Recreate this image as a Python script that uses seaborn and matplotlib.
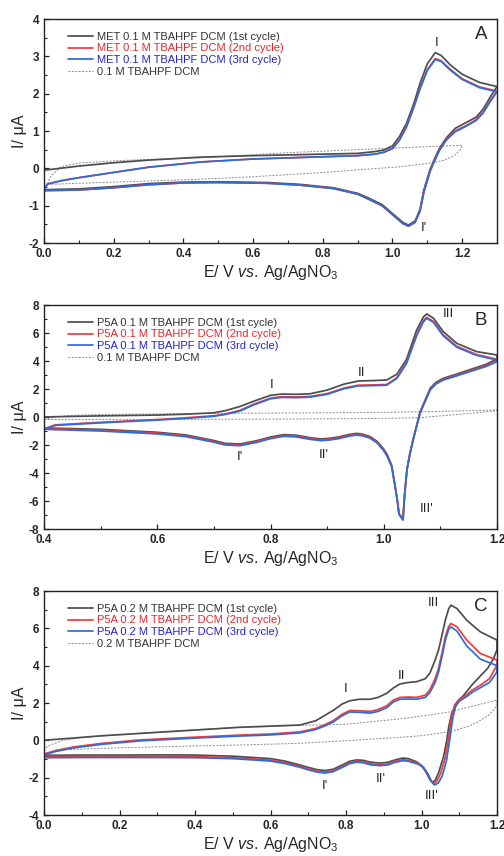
import numpy as np
import matplotlib
matplotlib.use("Agg")
import matplotlib.pyplot as plt
from matplotlib.lines import Line2D
from matplotlib.ticker import MultipleLocator, FormatStrFormatter
import seaborn as sns

# ---------------- Panel A: MET, 0.1 M TBAHPF ----------------
a_fwd_E1 = [0.0, 0.1, 0.2, 0.3, 0.45, 0.6, 0.8, 0.9, 0.95, 0.975, 1.0, 1.02, 1.04, 1.06, 1.08,
            1.1, 1.123, 1.14, 1.166, 1.2, 1.25, 1.3]
a_fwd_I1 = [-0.05, 0.06, 0.15, 0.22, 0.30, 0.34, 0.38, 0.40, 0.45, 0.49, 0.60, 0.85, 1.2, 1.7, 2.3,
            2.8, 3.10, 3.02, 2.77, 2.52, 2.30, 2.19]
a_fwd_E23 = [0.0, 0.01, 0.05, 0.1, 0.2, 0.3, 0.45, 0.6, 0.8, 0.9, 0.95, 0.975, 1.0, 1.02, 1.04,
             1.06, 1.08, 1.1, 1.123, 1.14, 1.166, 1.2, 1.25, 1.3]
a_fwd_I2 = [-0.58, -0.42, -0.33, -0.25, -0.11, 0.03, 0.17, 0.25, 0.31, 0.34, 0.38, 0.43, 0.53, 0.76,
            1.12, 1.62, 2.17, 2.64, 2.94, 2.88, 2.65, 2.40, 2.18, 2.07]
a_fwd_I3 = [-0.58, -0.42, -0.33, -0.25, -0.11, 0.03, 0.17, 0.25, 0.31, 0.34, 0.38, 0.43, 0.53, 0.75,
            1.1, 1.6, 2.15, 2.62, 2.92, 2.86, 2.63, 2.38, 2.16, 2.05]
a_rev_E = [1.3, 1.28, 1.26, 1.24, 1.21, 1.18, 1.155, 1.135, 1.12, 1.108, 1.09, 1.079, 1.065, 1.046,
           1.03, 1.0, 0.97, 0.93, 0.9, 0.83, 0.735, 0.64, 0.5, 0.4, 0.3, 0.2, 0.1, 0.01, 0.0]
a_rev_I1 = [2.19, 1.9, 1.58, 1.37, 1.22, 1.07, 0.82, 0.54, 0.24, -0.03, -0.58, -1.1, -1.41, -1.52,
            -1.45, -1.21, -0.97, -0.79, -0.67, -0.52, -0.43, -0.38, -0.36, -0.37, -0.41, -0.49,
            -0.55, -0.57, -0.57]
a_rev_I2 = [2.07, 1.8, 1.5, 1.3, 1.14, 1.0, 0.78, 0.5, 0.2, -0.07, -0.63, -1.14, -1.44, -1.55,
            -1.48, -1.24, -1.0, -0.82, -0.69, -0.54, -0.45, -0.4, -0.38, -0.39, -0.44, -0.52,
            -0.58, -0.6, -0.6]
a_rev_I3 = [2.05, 1.78, 1.48, 1.28, 1.12, 0.98, 0.76, 0.48, 0.18, -0.08, -0.65, -1.15, -1.45, -1.55,
            -1.48, -1.24, -1.0, -0.82, -0.69, -0.54, -0.45, -0.4, -0.38, -0.39, -0.44, -0.52,
            -0.58, -0.59, -0.59]
a_blank_E = [0.01, 0.02, 0.05, 0.1, 0.2, 0.3, 0.45, 0.59, 0.7, 0.8, 0.9, 1.0, 1.1, 1.15, 1.2,
             1.195, 1.18, 1.15, 1.1, 1.02, 0.9, 0.82, 0.7, 0.59, 0.45, 0.3, 0.2, 0.1, 0.017]
a_blank_I = [-0.42, -0.2, 0.05, 0.14, 0.2, 0.24, 0.28, 0.36, 0.42, 0.46, 0.5, 0.54, 0.58, 0.6, 0.62,
             0.5, 0.36, 0.22, 0.13, 0.04, -0.04, -0.1, -0.17, -0.23, -0.29, -0.34, -0.37, -0.4, -0.43]

# ---------------- Panel B: P5A, 0.1 M TBAHPF ----------------
b_fwd_E = [0.4, 0.42, 0.5, 0.6, 0.65, 0.7, 0.72, 0.746, 0.77, 0.8, 0.82, 0.845, 0.87, 0.9, 0.93,
           0.955, 0.98, 1.005, 1.023, 1.04, 1.058, 1.07, 1.076, 1.088, 1.105, 1.129, 1.164, 1.2]
b_fwd_I1 = [0.0, 0.02, 0.08, 0.14, 0.2, 0.3, 0.45, 0.75, 1.12, 1.55, 1.64, 1.62, 1.66, 1.92, 2.35,
            2.57, 2.6, 2.64, 3.05, 4.1, 6.2, 7.15, 7.36, 7.05, 6.1, 5.26, 4.67, 4.43]
b_fwd_I2 = [-0.85, -0.56, -0.38, -0.18, -0.06, 0.09, 0.22, 0.47, 0.91, 1.35, 1.45, 1.43, 1.47, 1.67,
            2.07, 2.27, 2.29, 2.32, 2.8, 3.87, 5.88, 6.9, 7.12, 6.82, 5.87, 5.05, 4.46, 4.12]
b_fwd_I3 = [-0.88, -0.6, -0.42, -0.22, -0.1, 0.05, 0.18, 0.42, 0.86, 1.3, 1.4, 1.38, 1.42, 1.62,
            2.02, 2.22, 2.24, 2.27, 2.75, 3.8, 5.8, 6.8, 7.05, 6.75, 5.8, 4.98, 4.4, 4.07]
b_rev_E = [1.2, 1.18, 1.152, 1.13, 1.105, 1.092, 1.082, 1.073, 1.064, 1.058, 1.052, 1.046, 1.041,
           1.037, 1.034, 1.027, 1.024, 1.02, 1.014, 1.006, 0.999, 0.988, 0.976, 0.963, 0.952,
           0.94, 0.92, 0.905, 0.89, 0.87, 0.845, 0.823, 0.8, 0.775, 0.746, 0.72, 0.7, 0.65, 0.6,
           0.5, 0.4]
b_rev_I1 = [4.15, 3.75, 3.38, 3.08, 2.76, 2.47, 2.05, 1.2, 0.35, -0.62, -1.56, -2.62, -3.72, -5.45,
            -7.3, -6.9, -5.95, -4.9, -3.45, -2.68, -2.24, -1.73, -1.4, -1.23, -1.17, -1.24, -1.43,
            -1.52, -1.57, -1.48, -1.3, -1.26, -1.43, -1.7, -1.93, -1.88, -1.68, -1.28, -1.09,
            -0.88, -0.78]
b_rev_I2 = [4.05, 3.67, 3.3, 3.0, 2.69, 2.4, 1.98, 1.14, 0.3, -0.66, -1.6, -2.66, -3.76, -5.48,
            -7.33, -6.93, -5.98, -4.94, -3.5, -2.74, -2.3, -1.79, -1.46, -1.29, -1.23, -1.3, -1.49,
            -1.58, -1.63, -1.54, -1.36, -1.32, -1.49, -1.76, -1.99, -1.94, -1.74, -1.34, -1.15,
            -0.94, -0.83]
b_rev_I3 = [3.95, 3.6, 3.24, 2.95, 2.64, 2.35, 1.93, 1.1, 0.26, -0.7, -1.64, -2.7, -3.79, -5.5,
            -7.36, -6.95, -6.0, -4.98, -3.55, -2.8, -2.36, -1.85, -1.52, -1.35, -1.29, -1.36, -1.55,
            -1.64, -1.69, -1.6, -1.42, -1.38, -1.55, -1.82, -2.05, -2.0, -1.8, -1.4, -1.21, -1.0,
            -0.88]
b_blank_E = [0.4, 0.42, 0.45, 0.5, 0.6, 0.7, 0.8, 0.9, 1.0, 1.1, 1.2,
             1.2, 1.15, 1.1, 1.064, 1.0, 0.9, 0.8, 0.7, 0.6, 0.5, 0.4]
b_blank_I = [-0.2, 0.0, 0.12, 0.18, 0.22, 0.26, 0.28, 0.3, 0.33, 0.4, 0.5,
             0.45, 0.25, 0.08, -0.05, -0.1, -0.13, -0.15, -0.16, -0.17, -0.17, -0.18]

# ---------------- Panel C: P5A, 0.2 M TBAHPF ----------------
c_fwd_E = [0.0, 0.005, 0.03, 0.077, 0.15, 0.254, 0.4, 0.519, 0.6, 0.678, 0.72, 0.745, 0.766, 0.79,
           0.81, 0.835, 0.864, 0.885, 0.908, 0.925, 0.943, 0.965, 0.987, 1.01, 1.022, 1.036, 1.045,
           1.055, 1.063, 1.072, 1.078, 1.094, 1.12, 1.156, 1.2]
c_fwd_I1 = [0.0, 0.01, 0.05, 0.12, 0.24, 0.37, 0.55, 0.7, 0.76, 0.82, 1.05, 1.35, 1.6, 1.95, 2.12,
            2.2, 2.2, 2.3, 2.52, 2.8, 3.02, 3.1, 3.14, 3.3, 3.59, 4.3, 4.83, 5.7, 6.43, 7.05, 7.24,
            7.06, 6.43, 5.81, 5.37]
c_fwd_I2 = [-0.8, -0.7, -0.55, -0.36, -0.17, 0.02, 0.17, 0.28, 0.34, 0.45, 0.64, 0.85, 1.05, 1.4,
            1.6, 1.58, 1.55, 1.65, 1.85, 2.15, 2.3, 2.32, 2.3, 2.42, 2.7, 3.3, 3.85, 4.75, 5.54, 6.1,
            6.26, 6.08, 5.37, 4.65, 4.3]
c_fwd_I3 = [-0.85, -0.76, -0.6, -0.41, -0.22, -0.03, 0.12, 0.23, 0.29, 0.4, 0.58, 0.78, 0.98, 1.32,
            1.52, 1.5, 1.46, 1.55, 1.75, 2.05, 2.2, 2.22, 2.2, 2.3, 2.55, 3.1, 3.65, 4.55, 5.35,
            5.95, 6.08, 5.85, 5.05, 4.35, 4.0]
c_rev_E1 = [1.2, 1.19, 1.175, 1.156, 1.135, 1.111, 1.094, 1.08, 1.072, 1.067, 1.058, 1.045, 1.036,
            1.029, 1.022, 1.012, 1.0, 0.987, 0.965, 0.95, 0.93, 0.91, 0.89, 0.865, 0.845, 0.828,
            0.81, 0.79, 0.766, 0.745, 0.725, 0.7, 0.679, 0.64, 0.6, 0.5, 0.4, 0.3, 0.2, 0.1, 0.03,
            0.005]
c_rev_I1 = [4.85, 4.35, 3.85, 3.45, 3.0, 2.4, 2.05, 1.45, 0.7, 0.0, -0.9, -1.75, -2.15, -2.26, -2.1,
            -1.7, -1.35, -1.15, -0.98, -0.95, -1.05, -1.18, -1.22, -1.17, -1.07, -1.05, -1.12,
            -1.32, -1.55, -1.62, -1.58, -1.45, -1.33, -1.12, -0.98, -0.85, -0.79, -0.78, -0.79,
            -0.79, -0.8, -0.8]
c_rev_E2 = [1.2, 1.18, 1.156, 1.135, 1.12, 1.1, 1.088, 1.08, 1.075, 1.07, 1.062, 1.05, 1.04, 1.032,
            1.025, 1.015, 1.003, 0.99, 0.965, 0.95, 0.93, 0.91, 0.89, 0.865, 0.845, 0.828, 0.81,
            0.79, 0.766, 0.745, 0.725, 0.7, 0.679, 0.64, 0.6, 0.5, 0.4, 0.3, 0.2, 0.1, 0.03, 0.005]
c_rev_I2 = [4.03, 3.3, 2.95, 2.7, 2.45, 2.2, 1.9, 1.3, 0.6, -0.1, -1.0, -1.8, -2.2, -2.32, -2.15,
            -1.75, -1.4, -1.22, -1.07, -1.04, -1.13, -1.27, -1.31, -1.26, -1.15, -1.12, -1.2, -1.4,
            -1.63, -1.7, -1.66, -1.53, -1.4, -1.2, -1.06, -0.93, -0.87, -0.86, -0.86, -0.86, -0.87,
            -0.87]
c_rev_E3 = [1.2, 1.18, 1.156, 1.135, 1.12, 1.1, 1.09, 1.083, 1.078, 1.073, 1.066, 1.055, 1.044,
            1.034, 1.027, 1.017, 1.005, 0.99, 0.965, 0.95, 0.93, 0.91, 0.89, 0.865, 0.845, 0.828,
            0.81, 0.79, 0.766, 0.745, 0.725, 0.7, 0.679, 0.64, 0.6, 0.5, 0.4, 0.3, 0.2, 0.1, 0.03,
            0.005]
c_rev_I3 = [3.67, 3.1, 2.82, 2.58, 2.35, 2.1, 1.8, 1.2, 0.5, -0.2, -1.1, -1.9, -2.3, -2.39, -2.22,
            -1.8, -1.45, -1.27, -1.12, -1.09, -1.18, -1.32, -1.36, -1.31, -1.2, -1.17, -1.25, -1.45,
            -1.68, -1.75, -1.71, -1.58, -1.45, -1.25, -1.11, -0.98, -0.93, -0.92, -0.92, -0.92,
            -0.93, -0.93]
c_blank_E = [0.0, 0.01, 0.05, 0.1, 0.2, 0.3, 0.4, 0.5, 0.6, 0.678, 0.8, 0.943, 1.03, 1.075, 1.12, 1.2,
             1.2, 1.19, 1.175, 1.146, 1.12, 1.075, 1.0, 0.943, 0.8, 0.678, 0.52, 0.4, 0.2, 0.03]
c_blank_I = [-0.55, -0.3, 0.0, 0.15, 0.3, 0.45, 0.57, 0.68, 0.75, 0.8, 0.86, 1.15, 1.38, 1.53, 1.75,
             2.16, 1.85, 1.6, 1.3, 0.95, 0.72, 0.46, 0.25, 0.16, -0.02, -0.16, -0.25, -0.3, -0.4,
             -0.52]

# Legend texts
legend_A = ["MET 0.1 M TBAHPF DCM (1st cycle)", "MET 0.1 M TBAHPF DCM (2nd cycle)",
            "MET 0.1 M TBAHPF DCM (3rd cycle)", "0.1 M TBAHPF DCM"]
legend_B = ["P5A 0.1 M TBAHPF DCM (1st cycle)", "P5A 0.1 M TBAHPF DCM (2nd cycle)",
            "P5A 0.1 M TBAHPF DCM (3rd cycle)", "0.1 M TBAHPF DCM"]
legend_C = ["P5A 0.2 M TBAHPF DCM (1st cycle)", "P5A 0.2 M TBAHPF DCM (2nd cycle)",
            "P5A 0.2 M TBAHPF DCM (3rd cycle)", "0.2 M TBAHPF DCM"]

# Peak annotations (label, E, I)
peaks_A = [("I", 1.126, 3.35), ("I'", 1.091, -1.6)]
peaks_B = [("I", 0.802, 2.29), ("II", 0.961, 3.12), ("III", 1.115, 7.33),
           ("I'", 0.746, -2.88), ("II'", 0.894, -2.71), ("III'", 1.075, -6.6)]
peaks_C = [("I", 0.8, 2.73), ("II", 0.948, 3.44), ("III", 1.032, 7.38),
           ("I'", 0.745, -2.44), ("II'", 0.891, -2.07), ("III'", 1.026, -2.98)]

sns.set_theme(style="ticks")
plt.rcParams["font.family"] = ["Liberation Sans", "DejaVu Sans"]
plt.rcParams["mathtext.fontset"] = "custom"
plt.rcParams["mathtext.rm"] = "Liberation Sans"
plt.rcParams["mathtext.it"] = "Liberation Sans:italic"
plt.rcParams["axes.linewidth"] = 1.0

C1 = "#4d4d4d"
C2 = "#ee3b3b"
C3 = "#2f6bd9"
CB = "#8a8a8a"
TXT = ["#333333", "#e8262c", "#2424cc", "#333333"]

fig = plt.figure(figsize=(5.04, 8.56), dpi=100)
W = 453 / 504
H = 224 / 856
L = 44 / 504
ax_A = fig.add_axes([L, 1 - 243 / 856, W, H])
ax_B = fig.add_axes([L, 1 - 529 / 856, W, H])
ax_C = fig.add_axes([L, 1 - 815 / 856, W, H])


def draw_cv(ax, curves, blank):
    bE, bI = blank
    sns.lineplot(x=bE, y=bI, sort=False, estimator=None, ax=ax, color=CB,
                 linewidth=0.7, linestyle=(0, (2.0, 1.5)))
    for (E, I), col in zip(curves, [C1, C2, C3]):
        sns.lineplot(x=E, y=I, sort=False, estimator=None, ax=ax, color=col, linewidth=1.25)


def style_axes(ax, xlim, ylim, xmaj, ymaj, ymin, letter, labels, peaks):
    ax.set_xlim(*xlim)
    ax.set_ylim(*ylim)
    ax.xaxis.set_major_locator(MultipleLocator(xmaj))
    ax.xaxis.set_minor_locator(MultipleLocator(xmaj / 2))
    ax.yaxis.set_major_locator(MultipleLocator(ymaj))
    ax.yaxis.set_minor_locator(MultipleLocator(ymin))
    ax.xaxis.set_major_formatter(FormatStrFormatter("%.1f"))
    ax.yaxis.set_major_formatter(FormatStrFormatter("%d"))
    ax.tick_params(which="major", direction="in", length=3.5, width=0.9, top=False, right=False,
                   labelsize=8.5, pad=3.5, color="#222222")
    ax.tick_params(which="minor", direction="in", length=2, width=0.8, top=False, right=False,
                   color="#222222")
    for lab in ax.get_xticklabels() + ax.get_yticklabels():
        lab.set_fontweight("bold")
    for s in ax.spines.values():
        s.set_color("#222222")
        s.set_linewidth(1.0)
    ax.set_xlabel(r"E/ V $\mathit{vs.}\,$Ag/AgNO$_3$", fontsize=11.5, labelpad=2)
    ax.set_ylabel("I/ μA", fontsize=11.5, labelpad=1)
    ax.text(0.965, 0.93, letter, transform=ax.transAxes, fontsize=13.5, ha="center", va="center")
    for t, x, y in peaks:
        ax.text(x, y, t, fontsize=9.5, ha="center", va="center", color="#222222")
    handles = [Line2D([], [], color=C1, lw=1.25), Line2D([], [], color=C2, lw=1.25),
               Line2D([], [], color=C3, lw=1.25),
               Line2D([], [], color=CB, lw=0.7, linestyle=(0, (2.0, 1.5)))]
    ax.legend(handles, labels, loc="upper left", bbox_to_anchor=(0.035, 0.978), frameon=False,
              fontsize=8, handlelength=2.3, handletextpad=0.35, labelspacing=0.16,
              borderpad=0.2, labelcolor=TXT)


draw_cv(ax_A,
        [(a_fwd_E1 + a_rev_E, a_fwd_I1 + a_rev_I1),
         (a_fwd_E23 + a_rev_E, a_fwd_I2 + a_rev_I2),
         (a_fwd_E23 + a_rev_E, a_fwd_I3 + a_rev_I3)],
        (a_blank_E, a_blank_I))
style_axes(ax_A, (0.0, 1.3), (-2, 4), 0.2, 1, 0.5, "A", legend_A, peaks_A)

draw_cv(ax_B,
        [(b_fwd_E + b_rev_E, b_fwd_I1 + b_rev_I1),
         (b_fwd_E + b_rev_E, b_fwd_I2 + b_rev_I2),
         (b_fwd_E + b_rev_E, b_fwd_I3 + b_rev_I3)],
        (b_blank_E, b_blank_I))
style_axes(ax_B, (0.4, 1.2), (-8, 8), 0.2, 2, 1, "B", legend_B, peaks_B)

draw_cv(ax_C,
        [(c_fwd_E + c_rev_E1, c_fwd_I1 + c_rev_I1),
         (c_fwd_E + c_rev_E2, c_fwd_I2 + c_rev_I2),
         (c_fwd_E + c_rev_E3, c_fwd_I3 + c_rev_I3)],
        (c_blank_E, c_blank_I))
style_axes(ax_C, (0.0, 1.2), (-4, 8), 0.2, 2, 1, "C", legend_C, peaks_C)

fig.savefig("out.png", dpi=100)
